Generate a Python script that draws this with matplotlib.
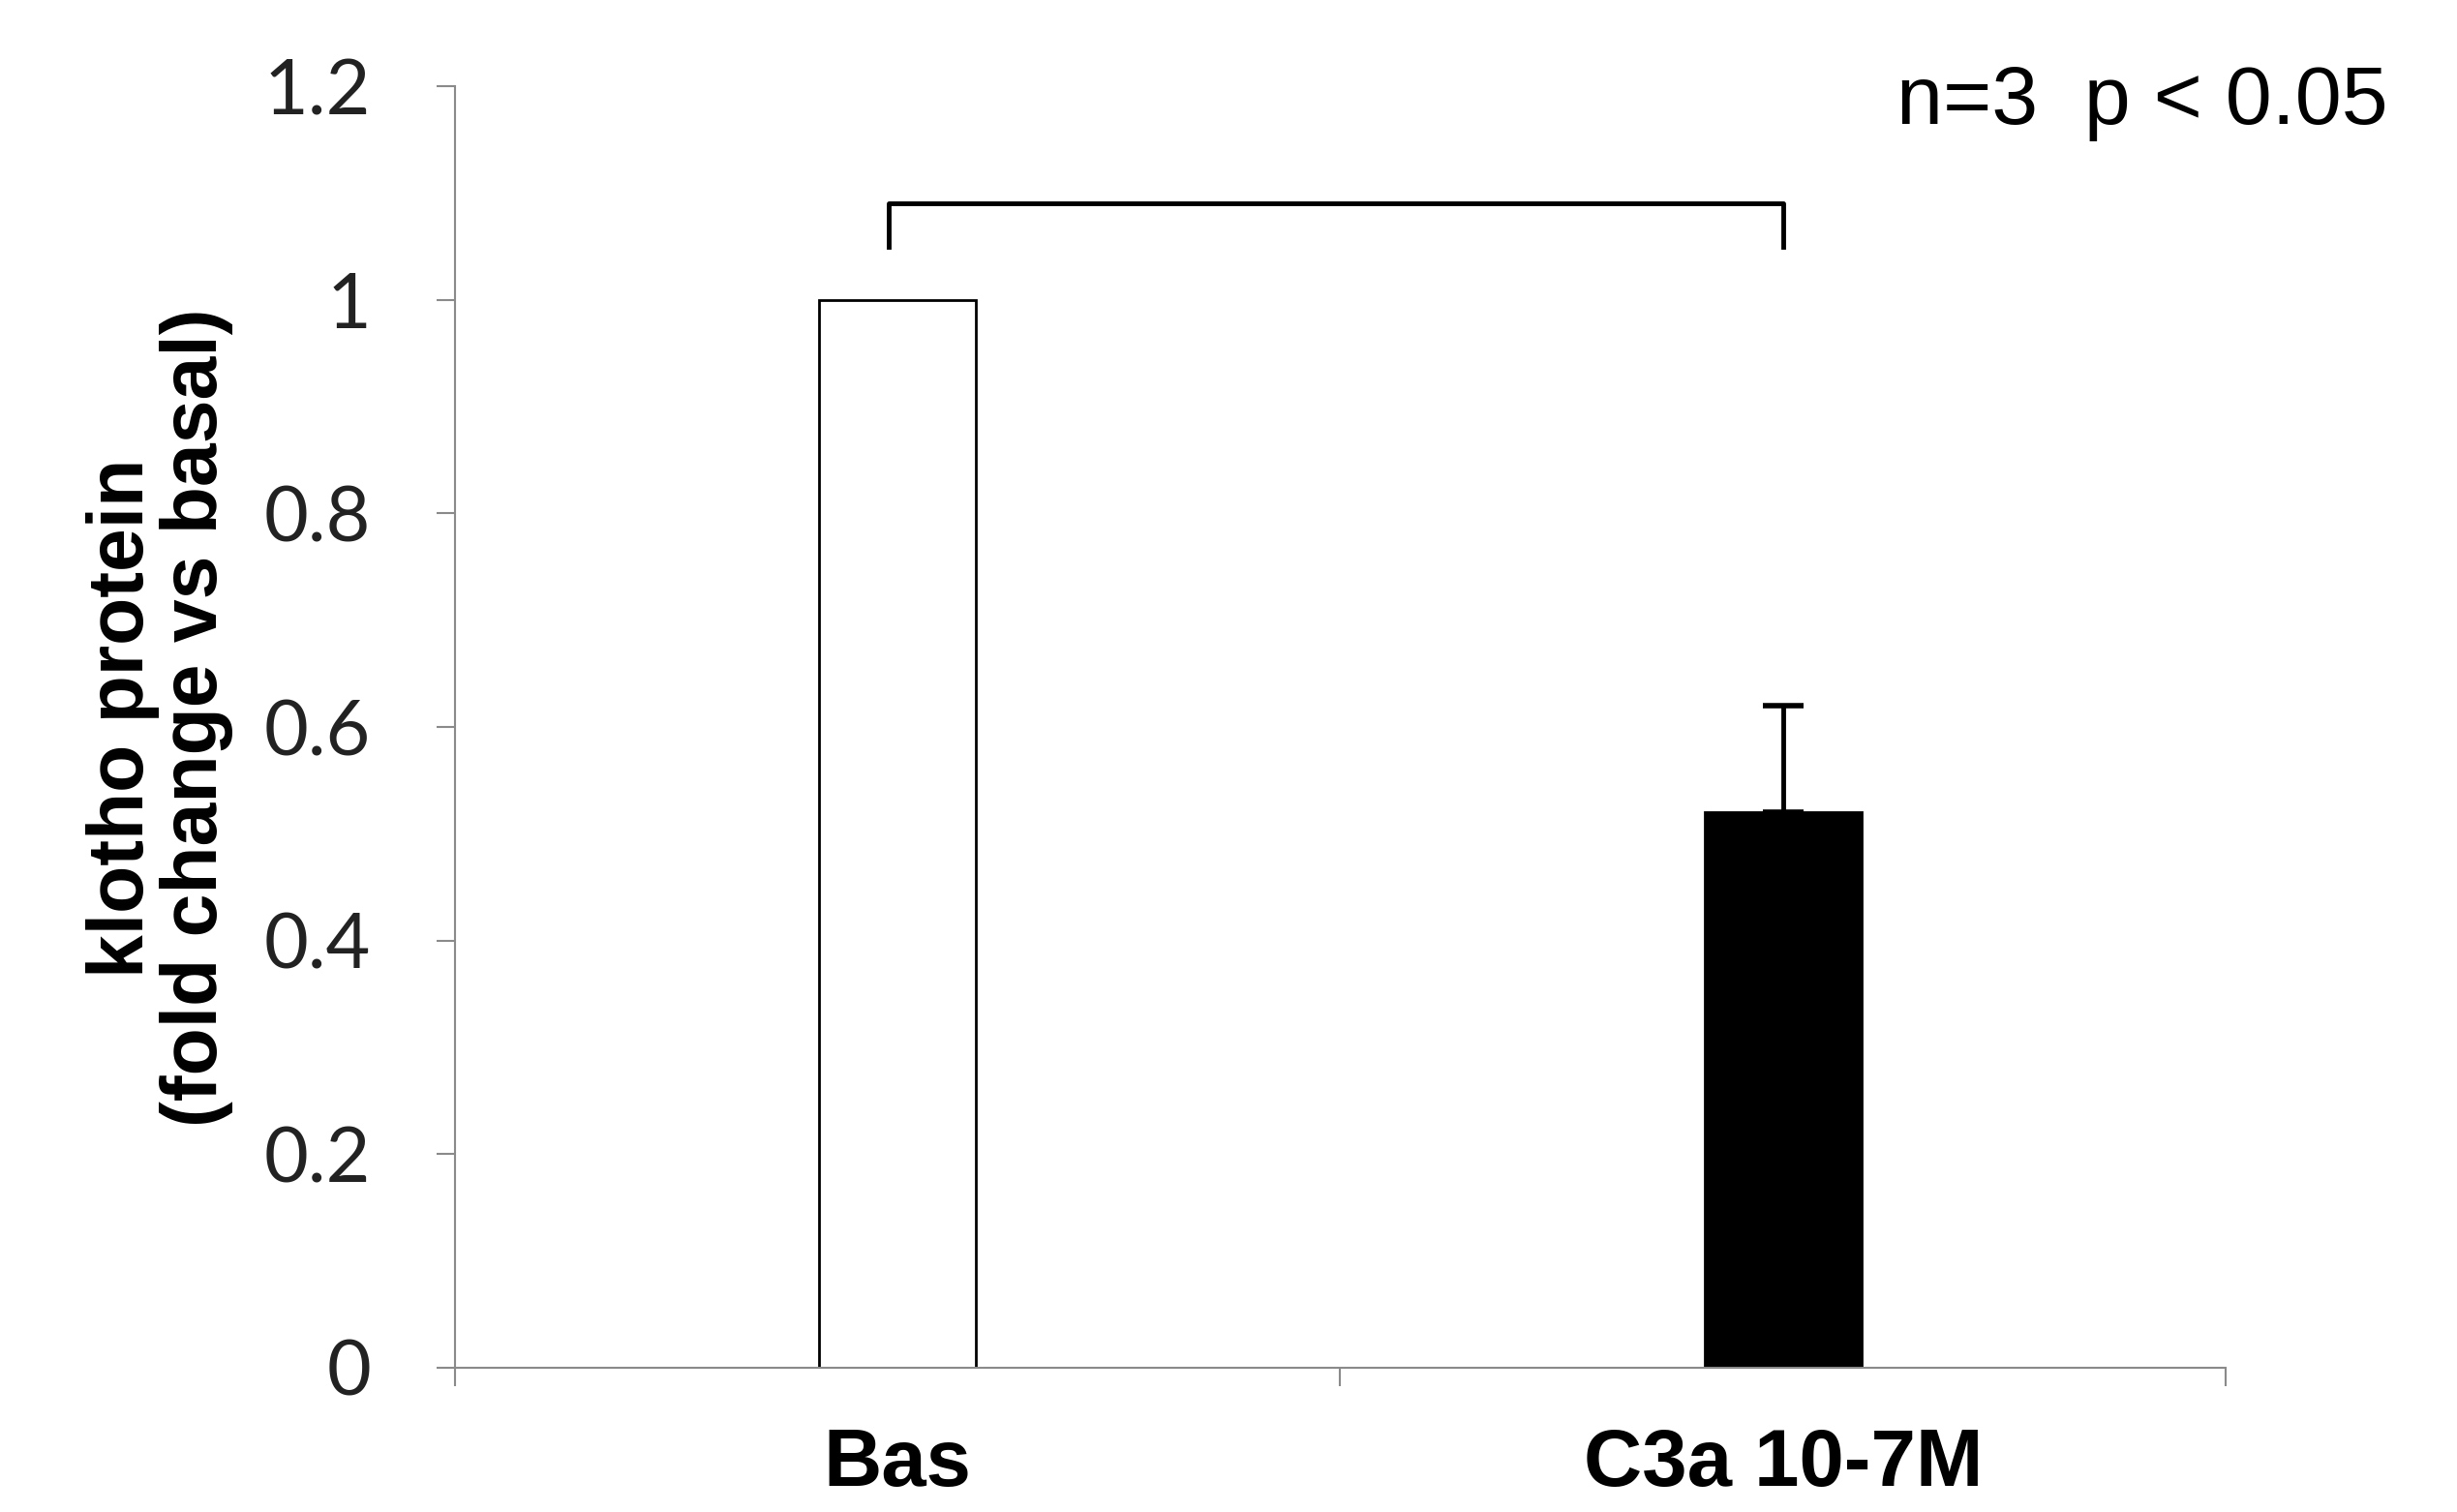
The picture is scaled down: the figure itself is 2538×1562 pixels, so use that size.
import numpy as np
import matplotlib.pyplot as plt

# data
categories = ["Bas", "C3a 10-7M"]
values = [1.0, 0.52]
err_up = [0.0, 0.10]
bar_colors = ["white", "black"]
yticks = [0, 0.2, 0.4, 0.6, 0.8, 1.0, 1.2]
ytick_labels = ["0", "0.2", "0.4", "0.6", "0.8", "1", "1.2"]
bracket_top = 1.09
bracket_foot = 1.05
stat_text = "n=3  p < 0.05"


def make_plot():
    fig = plt.figure(figsize=(25.38, 15.62), dpi=100)
    ax = fig.add_axes([0.185, 0.0954, 0.721, 0.8476])

    x = np.arange(len(categories))
    ax.bar(x, values, width=0.178, color=bar_colors, edgecolor="black", linewidth=2.0, zorder=2)
    # only the upper half of the error bar is shown
    ax.errorbar(x[1:], values[1:], yerr=[[0] * (len(x) - 1), err_up[1:]], fmt="none",
                ecolor="black", elinewidth=3.5, capsize=15, capthick=4.0, zorder=3)

    # significance bracket
    ax.plot([x[0] - 0.01, x[0] - 0.01, x[1], x[1]], [bracket_foot, bracket_top, bracket_top, bracket_foot],
            color="black", linewidth=3.5, clip_on=False)
    ax.text(1.128, 1.185, stat_text, fontsize=62, family="Liberation Sans",
            ha="left", va="center", clip_on=False)

    ax.set_xlim(-0.5, 1.5)
    ax.set_ylim(0, 1.2)
    ax.set_xticks(x)
    ax.set_xticklabels(categories, fontsize=60, fontweight="bold", family="Liberation Sans")
    ax.set_xticks([-0.5, 0.5, 1.5], minor=True)
    ax.tick_params(axis="x", which="major", length=0, pad=44)
    ax.tick_params(axis="x", which="minor", length=14, width=1.5, color="#8a8a8a", direction="out")

    ax.set_yticks(yticks)
    ax.set_yticklabels(ytick_labels, fontsize=57, family="Lato", color="#222222")
    ax.tick_params(axis="y", length=14, width=1.5, color="#8a8a8a", direction="out", pad=48)

    ax.set_ylabel("klotho protein\n(fold change vs basal)", fontsize=58, fontweight="bold",
                  family="Liberation Sans", linespacing=1.0, va="center")
    ax.yaxis.set_label_coords(-0.1664, 0.507)

    for side in ["top", "right"]:
        ax.spines[side].set_visible(False)
    for side in ["left", "bottom"]:
        ax.spines[side].set_color("#8a8a8a")
        ax.spines[side].set_linewidth(1.5)

    fig.savefig("out.png", dpi=100)


if __name__ == '__main__':
    make_plot()
